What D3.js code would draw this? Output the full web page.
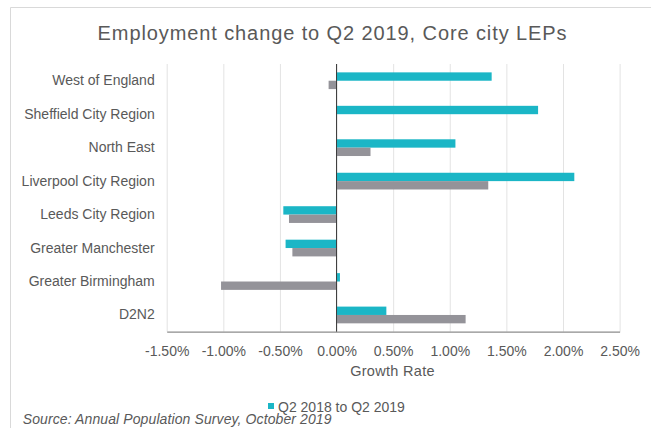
<html>
<head>
    <meta charset="utf-8">
    <title>Employment change</title>
    <script src="https://d3js.org/d3.v7.min.js"></script>
    <style>
        body { margin: 0; background: #fff; }
        text { font-family: "Liberation Sans", Arial, sans-serif; fill: #595959; }
    </style>
</head>
<body>
<script>
    // data (percent)
    let categories = ["West of England", "Sheffield City Region", "North East", "Liverpool City Region",
                      "Leeds City Region", "Greater Manchester", "Greater Birmingham", "D2N2"];
    let yearChange = [1.37, 1.78, 1.05, 2.10, -0.47, -0.45, 0.03, 0.44];   // Q2 2018 to Q2 2019
    let longChange = [-0.07, 0, 0.30, 1.34, -0.42, -0.39, -1.02, 1.14];    // grey series, no legend entry
    let seriesNames = ["Q2 2018 to Q2 2019", "other"];
    let xTicks = [-1.5, -1, -0.5, 0, 0.5, 1, 1.5, 2, 2.5];

    let teal = "#1bb6c6";
    let grey = "#949399";

    var svg = d3.select("body").append("svg").attr("width", 651).attr("height", 428);

    // outer frame (only top and left edges show in the crop)
    svg.append("path")
        .attr("d", "M10.5,428 V7.5 H651")
        .attr("fill", "none")
        .attr("stroke", "#d9d9d9")
        .attr("stroke-width", 1);

    svg.append("text")
        .attr("x", 332.5).attr("y", 40)
        .attr("text-anchor", "middle")
        .style("font-size", "20px")
        .style("letter-spacing", "0.9px")
        .text("Employment change to Q2 2019, Core city LEPs");

    let xScale = d3.scaleLinear().domain([-1.5, 2.5]).range([166.7, 619.6]);
    let yScale = d3.scaleBand().domain(categories).range([64, 331.7]).paddingInner(0.5).paddingOuter(0.25);
    let subScale = d3.scaleBand().domain(seriesNames).range([0, yScale.bandwidth()]);

    // vertical gridlines
    let grid = d3.axisBottom(xScale).tickValues(xTicks).tickSize(-(331.7 - 64)).tickFormat("");
    svg.append("g")
        .attr("transform", "translate(0,331.7)")
        .call(grid)
        .call(g => g.select(".domain").remove())
        .call(g => g.selectAll("line").attr("stroke", "#e3e3e3"));

    // bottom axis: line and labels, no tick marks
    let bottomAxis = d3.axisBottom(xScale).tickValues(xTicks).tickSize(0).tickPadding(14)
        .tickFormat(d => d3.format(".2f")(d).replace("\u2212", "-") + "%");
    svg.append("g")
        .attr("transform", "translate(0,331.7)")
        .call(bottomAxis)
        .call(g => g.select(".domain").attr("stroke", "#8c8c8c").attr("stroke-width", 1.3))
        .call(g => g.selectAll("text").attr("fill", "#595959")
            .style("font-size", "14px").style("font-family", "Liberation Sans, Arial, sans-serif"));

    // bars
    let rows = categories.map((c, i) => ({ cat: c, vals: [yearChange[i], longChange[i]] }));
    let colors = [teal, grey];
    rows.forEach(r => {
        r.vals.forEach((v, j) => {
            svg.append("rect")
                .attr("x", xScale(Math.min(0, v)))
                .attr("y", yScale(r.cat) + subScale(seriesNames[j]))
                .attr("width", Math.abs(xScale(v) - xScale(0)))
                .attr("height", subScale.bandwidth())
                .attr("fill", colors[j]);
        });
    });

    // zero line
    svg.append("line")
        .attr("x1", xScale(0)).attr("x2", xScale(0))
        .attr("y1", 64).attr("y2", 331.7)
        .attr("stroke", "#3a3a3a").attr("stroke-width", 1);

    // category labels
    let leftAxis = d3.axisLeft(yScale).tickSize(0).tickPadding(12);
    svg.append("g")
        .attr("transform", "translate(" + 166.7 + ",0)")
        .call(leftAxis)
        .call(g => g.select(".domain").remove())
        .call(g => g.selectAll("text").attr("fill", "#595959")
            .style("font-size", "14px").style("font-family", "Liberation Sans, Arial, sans-serif"));

    svg.append("text")
        .attr("x", 392.5).attr("y", 375.5)
        .attr("text-anchor", "middle")
        .style("font-size", "14.5px")
        .style("letter-spacing", "0.3px")
        .text("Growth Rate");

    // legend
    svg.append("rect").attr("x", 268).attr("y", 403).attr("width", 6).attr("height", 6).attr("fill", teal);
    svg.append("text")
        .attr("x", 278).attr("y", 411.7)
        .style("font-size", "14px")
        .text(seriesNames[0]);

    svg.append("text")
        .attr("x", 22.7).attr("y", 424)
        .style("font-size", "14px")
        .style("font-style", "italic")
        .style("letter-spacing", "0.1px")
        .text("Source: Annual Population Survey, October 2019");
</script>
</body>
</html>
